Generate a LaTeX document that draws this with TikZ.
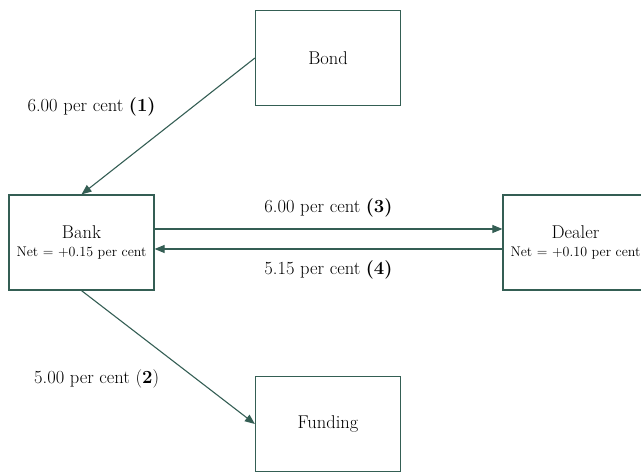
\documentclass[tikz,border=0pt]{standalone}
\usetikzlibrary{arrows.meta}

\definecolor{flowgreen}{RGB}{52,94,84}
\tikzset{
  party/.style={draw=flowgreen, line width=1.2pt, minimum width=145pt, minimum height=95pt,
    align=center, inner sep=0pt, font=\fontsize{18.5}{18}\selectfont},
  flow/.style={draw=flowgreen, line width=1.1pt, -{Triangle[length=10pt,width=8pt]}},
  rate/.style={font=\fontsize{18.5}{20}\selectfont}
}
\newcommand{\netline}[1]{{\fontsize{14}{15}\selectfont Net = #1 per cent}}

\begin{document}
\begin{tikzpicture}[x=1pt,y=1pt]
 \useasboundingbox (0,0) rectangle (641,472);

 \node[party] (bond) at (328,414) {Bond};
 \node[party] (bank) at (81.5,229.5) {Bank\\\netline{+0.15}};
 \node[party] (dealer) at (575.5,229.5) {Dealer\\\netline{+0.10}};
 \node[party] (funding) at (328,48) {Funding};

 \draw [flow] (bond.west) -- (bank.north)
   node[rate, pos=0.36, left=33pt] {6.00 per cent \textbf{(1)}};
 \draw [flow] (bank.south) -- (funding.west)
   node[rate, pos=0.66, left=33pt] {5.00 per cent (\textbf{2})};

 \draw [flow] ([yshift=13.5pt]bank.east) -- ([yshift=13.5pt]dealer.west)
   node[rate, midway, above=8pt] {6.00 per cent \textbf{(3)}};
 \draw [flow] ([yshift=-6.5pt]dealer.west) -- ([yshift=-6.5pt]bank.east)
   node[rate, midway, below=8pt] {5.15 per cent \textbf{(4)}};
\end{tikzpicture}
\end{document}
